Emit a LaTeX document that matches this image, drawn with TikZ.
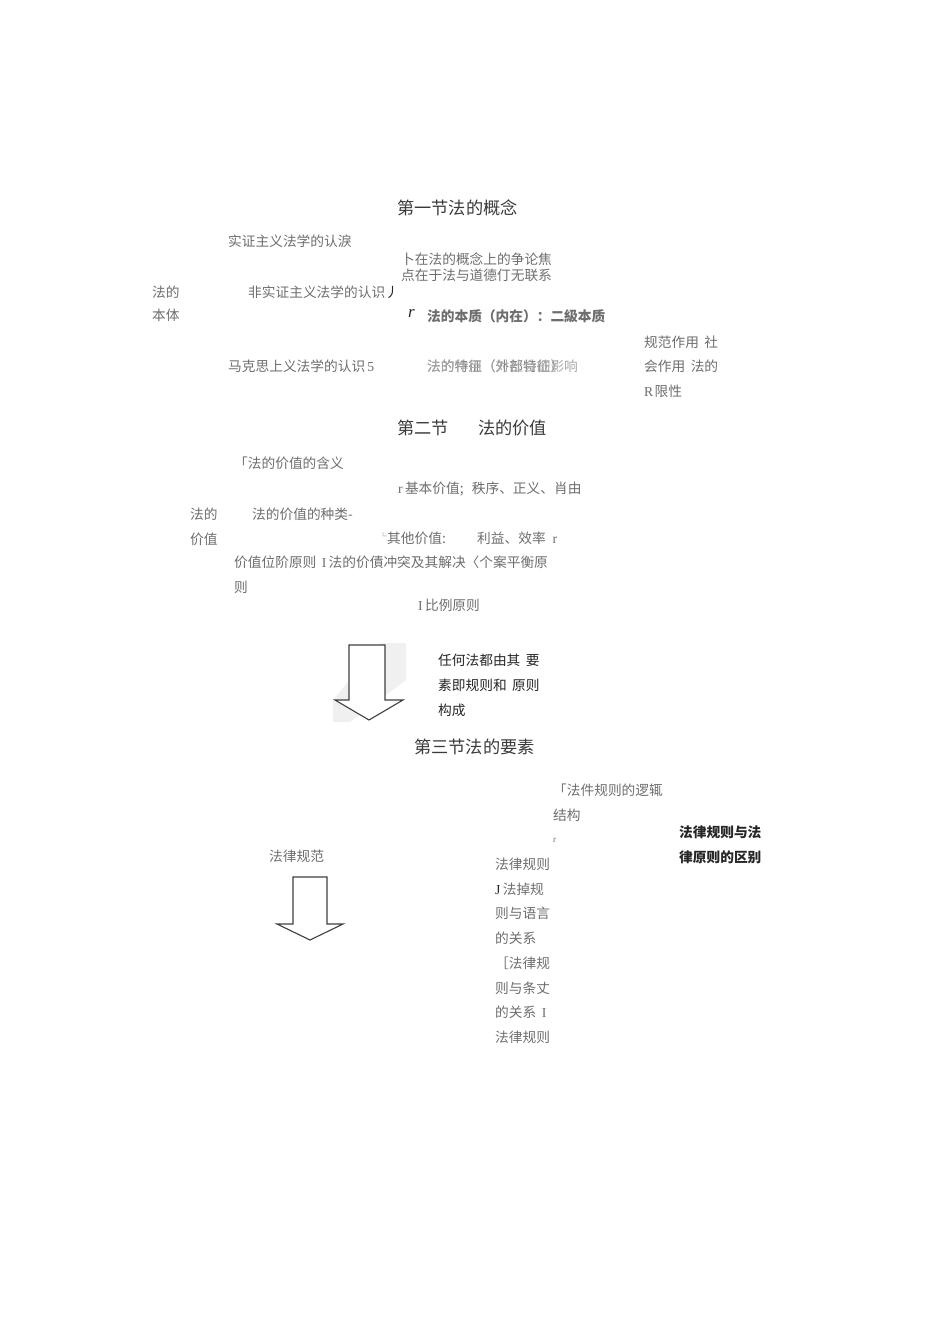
\documentclass[tikz,border=0pt]{standalone}
\usepackage{fontspec}
\setmainfont{Noto Sans CJK SC}
\newfontfamily\latf{Liberation Serif}
\definecolor{txtgrey}{HTML}{6E6E6E}
\definecolor{ttlgrey}{HTML}{3A3A3A}
\definecolor{darktxt}{HTML}{262626}
\begin{document}
\begin{tikzpicture}[x=1pt,y=-1pt,
  body/.style={anchor=west,inner sep=0pt,text=txtgrey,font=\fontsize{13.7}{16}\selectfont},
  ttl/.style={anchor=west,inner sep=0pt,text=ttlgrey,font=\fontsize{17.2}{20}\selectfont},
  dark/.style={anchor=west,inner sep=0pt,text=darktxt,font=\fontsize{13.7}{16}\selectfont},
  bolddark/.style={anchor=west,inner sep=0pt,text=darktxt,font=\fontsize{13.7}{16}\selectfont\bfseries},
  boldgrey/.style={anchor=west,inner sep=0pt,text=txtgrey,font=\fontsize{13.7}{16}\selectfont\bfseries},
  arrowshape/.style={draw=black!75,line width=1.1pt,fill=white,line join=miter}]
\useasboundingbox (0,0) rectangle (950,1344);
\fill[white] (0,0) rectangle (950,1344);
% Section 1
\node[ttl] (t1) at (397,208) {第一节法的概念};
\node[body] (a1) at (228,241) {实证主义法学的认淚};
\node[body] (a2) at (401,259) {卜在法的概念上的争论焦};
\node[body] (a3) at (401,275) {点在于法与道德仃无联系};
\node[body] (a4) at (152,292) {法的};
\node[body] (a5) at (152,315) {本体};
\node[body] (a6) at (248,292) {非实证主义法学的认识\textcolor{darktxt}{丿}};
\node[dark,font=\latf\itshape\fontsize{17}{20}\selectfont] (a7) at (408,313) {r};
\node[boldgrey] (a8) at (427,316) {法的本质（内在）：二級本质};
\node[body] (a9) at (644,342) {规范作用\hspace{0.4em}社};
\node[body] (a10) at (644,366) {会作用\hspace{0.4em}法的};
\node[body] (a11) at (644,391) {{\latf R}\hspace{0.1em}限性};
\node[body] (a12) at (228,366) {马克思上义法学的认识{\latf\,5}};
\node[body] (a13) at (427,366) {\rlap{\textcolor{txtgrey!90}{法的特征（外部特征）}}\textcolor{txtgrey!60}{法的作用（对社会的影响}};
% Section 2
\node[ttl] (t2a) at (397,428) {第二节};
\node[ttl] (t2b) at (478,428) {法的价值};
\node[body] (b1) at (234,463) {「法的价值的含义};
\node[body] (b2) at (398,489) {{\latf r\,}基本价值;\hspace{0.6em}秩序、正义、肖由};
\node[body] (b3) at (190,514) {法的};
\node[body] (b4) at (190,539) {价值};
\node[body] (b5) at (252,514) {法的价值的种类-};
\node[body] (b6) at (379,538) {\raisebox{0.5ex}{\fontsize{8}{8}\selectfont └}其他价值:};
\node[body] (b7) at (477,538) {利益、效率\hspace{0.5em}{\latf r}};
\node[body] (b8) at (234,562) {价值位阶原则\hspace{0.4em}{\latf I\,}法的价債冲突及其解决〈个案平衡原};
\node[body] (b9) at (234,587) {则};
\node[body] (b10) at (418,605) {{\latf I\,}比例原则};
% arrow 1
\fill[black!6] (380,643) -- (406,643) -- (406,680) -- (350,722) -- (333,722) -- (333,700) -- cycle;
\draw[arrowshape] (349,645) -- (385,645) -- (385,700) -- (403,700) -- (369,720) -- (335,700) -- (349,700) -- cycle;
\node[dark] (c1) at (438,660) {任何法都由其\hspace{0.4em}要};
\node[dark] (c2) at (438,685) {素即规则和\hspace{0.4em}原则};
\node[dark] (c3) at (438,710) {构成};
% Section 3
\node[ttl] (t3) at (414,747) {第三节法的要素};
\node[body] (d1) at (553,790) {「法件规则的逻辄};
\node[body] (d2) at (553,815) {结构};
\node[body,font=\latf\fontsize{9}{10}\selectfont] (d3) at (553,840) {r};
\node[body] (d4) at (269,856) {法律规范};
\draw[arrowshape] (293,877) -- (327,877) -- (327,924) -- (343,924) -- (310,940) -- (277,924) -- (293,924) -- cycle;
\node[body] (e1) at (495,864) {法律规则};
\node[body] (e2) at (495,889) {{\latf\color{darktxt}J\,}法掉规};
\node[body] (e3) at (495,913) {则与语言};
\node[body] (e4) at (495,938) {的关系};
\node[body] (e5) at (495,963) {［法律规};
\node[body] (e6) at (495,988) {则与条丈};
\node[body] (e7) at (495,1012) {的关系\hspace{0.4em}{\latf I}};
\node[body] (e8) at (495,1037) {法律规则};
\node[bolddark] (f1) at (679,832) {法律规则与法};
\node[bolddark] (f2) at (679,857) {律原则的区别};
\end{tikzpicture}
\end{document}
